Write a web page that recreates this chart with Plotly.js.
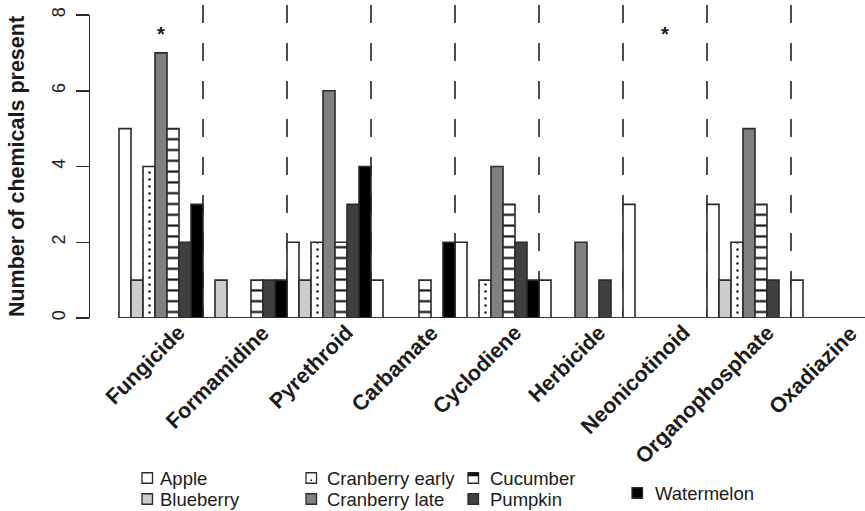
<!DOCTYPE html>
<html>
<head>
<meta charset="utf-8">
<script src="https://cdn.plot.ly/plotly-3.0.1.min.js"></script>
<style>
  html, body { margin: 0; padding: 0; background: #ffffff; }
  #chart { width: 865px; height: 511px; }
</style>
</head>
<body>
<div id="chart"></div>
<script>
// ---- data ----
const categories = ['Fungicide', 'Formamidine', 'Pyrethroid', 'Carbamate', 'Cyclodiene',
                    'Herbicide', 'Neonicotinoid', 'Organophosphate', 'Oxadiazine'];
const seriesNames = ['Apple', 'Blueberry', 'Cranberry early', 'Cranberry late',
                     'Cucumber', 'Pumpkin', 'Watermelon'];
const apple          = [5, 0, 2, 1, 2, 1, 3, 3, 1];
const blueberry      = [1, 1, 1, 0, 0, 0, 0, 1, 0];
const cranberryEarly = [4, 0, 2, 0, 1, 0, 0, 2, 0];
const cranberryLate  = [7, 0, 6, 0, 4, 2, 0, 5, 0];
const cucumber       = [5, 1, 2, 1, 3, 0, 0, 3, 0];
const pumpkin        = [2, 1, 3, 0, 2, 1, 0, 1, 0];
const watermelon     = [3, 1, 4, 2, 1, 0, 0, 0, 0];
const significant    = ['Fungicide', 'Neonicotinoid'];
const yTicks         = [0, 2, 4, 6, 8];

// ---- styles ----
const FONT = 'Liberation Sans, Arial, Helvetica, sans-serif';
const INK = '#1a1a1a';
const OUTLINE = '#2b2b2b';
const values = [apple, blueberry, cranberryEarly, cranberryLate, cucumber, pumpkin, watermelon];
const fills = ['#ffffff', '#cccccc', '#ffffff', '#808080', '#ffffff', '#404040', '#000000'];
const patterns = [
  null, null,
  {shape: '.', bgcolor: '#ffffff', fgcolor: '#111111', size: 7, solidity: 0.09},
  null,
  {shape: '-', bgcolor: '#ffffff', fgcolor: '#111111', size: 10.8, solidity: 0.2},
  null, null
];

const traces = seriesNames.map((name, i) => {
  const marker = {color: fills[i], line: {color: OUTLINE, width: 1.6}};
  if (patterns[i]) marker.pattern = patterns[i];
  return {type: 'bar', name: name, x: categories, y: values[i], marker: marker,
          hoverinfo: 'x+y+name'};
});

// ---- geometry (pixels of the 865x511 figure) ----
const W = 865, H = 511;
const plotL = 90, plotR = 865, plotT = 15, plotB = 318;
const pw = plotR - plotL, ph = plotB - plotT;
const pxX = px => (px - plotL) / pw;      // px -> paper x
const pxY = py => (plotB - py) / ph;      // px -> paper y
const groupPx = 84, firstCenterPx = 161;
const xRange = [(plotL - firstCenterPx) / groupPx, (plotR - firstCenterPx) / groupPx];

const shapes = [];
// dashed separators between groups
for (let i = 0; i < categories.length - 1; i++) {
  shapes.push({type: 'line', layer: 'below', xref: 'x', yref: 'paper',
               x0: i + 0.5, x1: i + 0.5, y0: pxY(5), y1: 0,
               line: {color: '#4d4d4d', width: 2, dash: '18px,20px'}});
}
// baseline (borders of the bars at zero)
shapes.push({type: 'line', layer: 'above', xref: 'x', yref: 'y',
             x0: -0.5, x1: categories.length - 0.5, y0: 0, y1: 0,
             line: {color: OUTLINE, width: 1.6}});

const annotations = [];
// rotated category labels
categories.forEach((c, i) => {
  annotations.push({xref: 'x', yref: 'paper', x: i + 32 / groupPx, y: pxY(318),
                    xanchor: 'right', yanchor: 'top', textangle: -45, showarrow: false,
                    text: '<b>' + c + '</b>', font: {family: FONT, size: 21.5, color: INK}});
});
// significance stars
significant.forEach(c => {
  annotations.push({xref: 'x', yref: 'y', x: categories.indexOf(c), y: 7.5,
                    xanchor: 'center', yanchor: 'middle', showarrow: false,
                    text: '<b>*</b>', font: {family: FONT, size: 20, color: INK}});
});

// legend (drawn as in the reference: 3 columns of 2 + a lone entry)
const legendItems = [
  {i: 0, sx: 142, cy: 478, tx: 158},
  {i: 1, sx: 142, cy: 499, tx: 158},
  {i: 2, sx: 306, cy: 478, tx: 325},
  {i: 3, sx: 306, cy: 499, tx: 325},
  {i: 4, sx: 468, cy: 478, tx: 488},
  {i: 5, sx: 468, cy: 499, tx: 488},
  {i: 6, sx: 632, cy: 493, tx: 653}
];
const sq = 10.5;
legendItems.forEach(it => {
  shapes.push({type: 'rect', xref: 'paper', yref: 'paper',
               x0: pxX(it.sx), x1: pxX(it.sx + sq), y0: pxY(it.cy - sq / 2), y1: pxY(it.cy + sq / 2),
               fillcolor: fills[it.i], line: {color: OUTLINE, width: 1.3}});
  if (it.i === 4) {
    shapes.push({type: 'rect', xref: 'paper', yref: 'paper',
                 x0: pxX(it.sx), x1: pxX(it.sx + sq), y0: pxY(it.cy - sq / 2), y1: pxY(it.cy - sq / 2 + 3.5),
                 fillcolor: '#111111', line: {width: 0}});
  }
  if (it.i === 2) {
    shapes.push({type: 'rect', xref: 'paper', yref: 'paper',
                 x0: pxX(it.sx + 4.5), x1: pxX(it.sx + 6), y0: pxY(it.cy + 1.5), y1: pxY(it.cy + 3),
                 fillcolor: '#111111', line: {width: 0}});
  }
  annotations.push({xref: 'paper', yref: 'paper', x: pxX(it.tx), y: pxY(it.cy),
                    xanchor: 'left', yanchor: 'middle', showarrow: false,
                    text: seriesNames[it.i], font: {family: FONT, size: 18.5, color: INK}});
});

const layout = {
  width: W, height: H,
  margin: {l: plotL, r: W - plotR, t: plotT, b: H - plotB, pad: 0},
  paper_bgcolor: '#ffffff', plot_bgcolor: '#ffffff',
  font: {family: FONT, color: INK},
  showlegend: false,
  barmode: 'group', bargap: 0, bargroupgap: 0,
  xaxis: {type: 'category', range: xRange, showticklabels: false, ticks: '',
          showgrid: false, zeroline: false, showline: false, fixedrange: true},
  yaxis: {range: [0, 8], tickvals: yTicks, ticktext: yTicks.map(String),
          ticks: 'outside', ticklen: 13, tickwidth: 1.5, tickcolor: OUTLINE,
          showline: true, linecolor: OUTLINE, linewidth: 1.5,
          showgrid: false, zeroline: false, tickangle: -90, ticklabelstandoff: 3,
          tickfont: {family: FONT, size: 18, color: INK},
          title: {text: '<b>Number of chemicals present</b>', standoff: 19,
                  font: {family: FONT, size: 21.5, color: INK}},
          automargin: false, fixedrange: true},
  shapes: shapes,
  annotations: annotations
};

Plotly.newPlot('chart', traces, layout, {displayModeBar: false, staticPlot: true});
</script>
</body>
</html>
